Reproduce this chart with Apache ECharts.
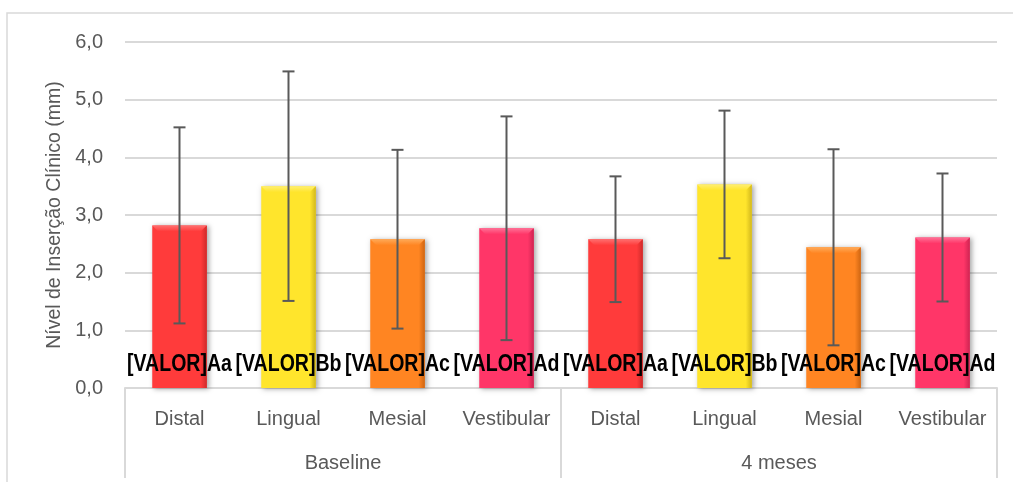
<!DOCTYPE html>
<html>
<head>
<meta charset="utf-8">
<script src="https://cdn.jsdelivr.net/npm/echarts@6/dist/echarts.min.js"></script>
<style>
html,body{margin:0;padding:0;background:#fff;}
#chart{width:1013px;height:482px;}
</style>
</head>
<body>
<div id="chart"></div>
<script>
// ---- data ----
const categories = ['Distal','Lingual','Mesial','Vestibular','Distal','Lingual','Mesial','Vestibular'];
const groups = ['Baseline','4 meses'];
const means = [2.82, 3.50, 2.58, 2.77, 2.58, 3.53, 2.44, 2.61];
const errors = [1.70, 1.99, 1.55, 1.94, 1.09, 1.28, 1.70, 1.11];
const valueLabels = ['[VALOR]Aa','[VALOR]Bb','[VALOR]Ac','[VALOR]Ad','[VALOR]Aa','[VALOR]Bb','[VALOR]Ac','[VALOR]Ad'];
const yTicks = [0,1,2,3,4,5,6];

// ---- styles ----
const FONT = '"Liberation Sans",Arial,sans-serif';
const barStyles = [
  {main:'#FF3B3B', light:'#FF7070', dark:'#CF2A2A'},
  {main:'#FFE52C', light:'#FFEF72', dark:'#D2B81C'},
  {main:'#FF8522', light:'#FFAA58', dark:'#CF6612'},
  {main:'#FF3668', light:'#FF7096', dark:'#CF2452'}
];

const chart = echarts.init(document.getElementById('chart'), null, {renderer:'canvas'});

function renderBar(params, api){
  const i = api.value(0), v = api.value(1);
  const top = api.coord([i, v]);
  const base = api.coord([i, 0]);
  const w = api.size([1, 0])[0] * 0.5;
  const x0 = top[0] - w/2, x1 = top[0] + w/2, y0 = top[1], y1 = base[1];
  const b = 6;
  const s = barStyles[i % 4];
  return {type:'group', children:[
    {type:'rect', shape:{x:x0, y:y0, width:w, height:y1-y0},
      style:{fill:s.main, shadowBlur:5, shadowOffsetX:2, shadowOffsetY:1, shadowColor:'rgba(0,0,0,0.35)'}},
    {type:'polygon', shape:{points:[[x0,y0],[x1,y0],[x1-b,y0+b],[x0+b,y0+b]]},
      style:{fill:new echarts.graphic.LinearGradient(0,0,0,1,[{offset:0,color:s.light},{offset:1,color:s.main}])}},
    {type:'polygon', shape:{points:[[x1,y0],[x1-b,y0+b],[x1-b,y1],[x1,y1]]},
      style:{fill:new echarts.graphic.LinearGradient(0,0,1,0,[{offset:0,color:s.main},{offset:1,color:s.dark}])}}
  ]};
}

function renderErr(params, api){
  const i = api.value(0), m = api.value(1), e = api.value(2);
  const hi = api.coord([i, m + e]);
  const lo = api.coord([i, m - e]);
  const cap = 6;
  const st = {stroke:'#595959', lineWidth:2};
  return {type:'group', children:[
    {type:'line', shape:{x1:hi[0], y1:hi[1], x2:lo[0], y2:lo[1]}, style:st},
    {type:'line', shape:{x1:hi[0]-cap, y1:hi[1], x2:hi[0]+cap, y2:hi[1]}, style:st},
    {type:'line', shape:{x1:lo[0]-cap, y1:lo[1], x2:lo[0]+cap, y2:lo[1]}, style:st}
  ]};
}

function renderLabel(params, api){
  const i = api.value(0);
  const base = api.coord([i, 0]);
  return {type:'text', x: base[0], y: base[1] - 23, scaleX: 0.85,
    style:{text: valueLabels[i], x:0, y:0, align:'center', verticalAlign:'middle',
      font:'bold 23px ' + FONT, fill:'#000'}};
}

const option = {
  backgroundColor:'#fff',
  animation:false,
  graphic:[
    {type:'rect', shape:{x:7, y:13, width:1020, height:480}, style:{fill:'none', stroke:'#d9d9d9', lineWidth:1.5}, silent:true, z:-10}
  ],
  grid:{left:125, right:16, top:42, bottom:94},
  xAxis:[
    {type:'category', data:categories, position:'bottom',
      axisLine:{show:true, lineStyle:{color:'#d9d9d9', width:2}},
      axisTick:{show:false},
      axisLabel:{interval:0, margin:21, color:'#595959', fontSize:20, fontFamily:FONT}},
    {type:'category', data:groups, position:'bottom', offset:0,
      axisLine:{show:false},
      axisTick:{show:true, length:90, interval:0, lineStyle:{color:'#d9d9d9', width:2}},
      axisLabel:{interval:0, margin:65, color:'#595959', fontSize:20, fontFamily:FONT}}
  ],
  yAxis:{type:'value', min:yTicks[0], max:yTicks[yTicks.length-1], interval:1,
    name:'Nível de Inserção Clínico (mm)', nameLocation:'middle', nameGap:49,
    nameTextStyle:{color:'#595959', fontSize:19.5, fontFamily:FONT},
    axisLine:{show:false}, axisTick:{show:false},
    axisLabel:{margin:22, color:'#595959', fontSize:20, fontFamily:FONT,
      formatter: v => v.toFixed(1).replace('.', ',')},
    splitLine:{lineStyle:{color:'#d9d9d9', width:2}}
  },
  series:[
    {type:'custom', xAxisIndex:0, renderItem:renderBar, z:2,
      data: means.map((m,i)=>[i, m]), encode:{x:0, y:1}},
    {type:'custom', xAxisIndex:0, renderItem:renderErr, z:3,
      data: means.map((m,i)=>[i, m, errors[i]]), encode:{x:0, y:[1]}},
    {type:'custom', xAxisIndex:0, renderItem:renderLabel, z:4,
      data: means.map((m,i)=>[i, m]), encode:{x:0, y:1}}
  ]
};
chart.setOption(option);
</script>
</body>
</html>
